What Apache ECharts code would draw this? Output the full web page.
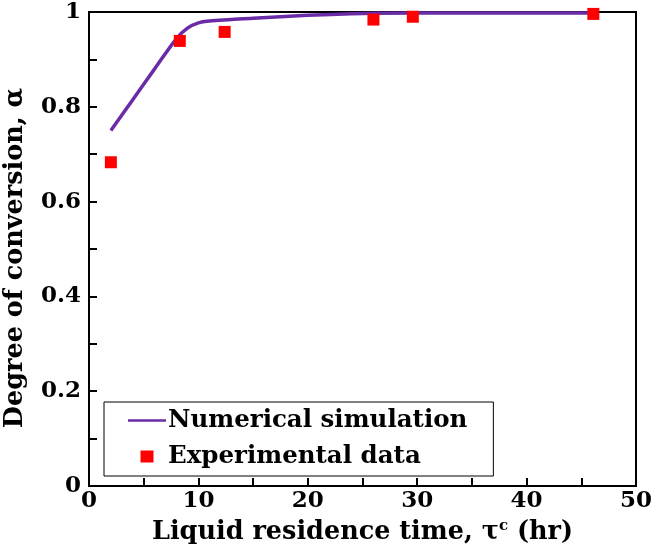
<!DOCTYPE html>
<html>
<head>
<meta charset="utf-8">
<script src="https://cdn.jsdelivr.net/npm/echarts@6/dist/echarts.min.js"></script>
<style>html,body{margin:0;padding:0;background:#fff;}#c{width:654px;height:553px;}</style>
</head>
<body>
<div id="c"></div>
<script>
// Numerical simulation curve
const simX = [2.0, 4.0, 6.0, 8.0, 9.0, 10.0, 11.0, 13.0, 15.0, 20.0, 25.0, 30.0, 46.0];
const simY = [0.750, 0.815, 0.880, 0.944, 0.966, 0.977, 0.981, 0.984, 0.987, 0.993, 0.997, 0.998, 0.998];
// Experimental data
const expX = [2.0, 8.3, 12.4, 26.0, 29.6, 46.1];
const expY = [0.683, 0.939, 0.958, 0.984, 0.990, 0.996];
const xTicks = [0, 10, 20, 30, 40, 50];
const yTicks = [0, 0.2, 0.4, 0.6, 0.8, 1];

const FONT = 'DejaVu Serif';
const chart = echarts.init(document.getElementById('c'), null, {renderer: 'canvas'});
chart.setOption({
  backgroundColor: '#fff',
  animation: false,
  grid: {left: 89, right: 18, top: 12, bottom: 67, outerBoundsMode: 'none', containLabel: false,
    show: true, borderColor: '#000', borderWidth: 2, backgroundColor: 'transparent'},
  xAxis: {
    type: 'value', min: 0, max: 50, interval: 10,
    name: 'Liquid residence time, τ{sup|c} (hr)',
    nameLocation: 'middle', nameGap: 33,
    nameTextStyle: {fontFamily: FONT, fontWeight: 'bold', fontSize: 25.5, color: '#000',
      rich: {sup: {fontFamily: FONT, fontWeight: 'bold', fontSize: 15, color: '#000', verticalAlign: 'top', padding: [0,0,10,0]}}},
    axisLine: {lineStyle: {color: '#000', width: 2}},
    axisTick: {inside: true, length: 8, lineStyle: {color: '#000', width: 2}},
    minorTick: {show: true, splitNumber: 2, length: 8, lineStyle: {color: '#000', width: 2}},
    splitLine: {show: false},
    axisLabel: {fontFamily: FONT, fontWeight: 'bold', fontSize: 23, color: '#000', margin: 4,
      formatter: v => xTicks.includes(v) ? String(v) : ''}
  },
  yAxis: {
    type: 'value', min: 0, max: 1, interval: 0.2,
    name: 'Degree of conversion, α',
    nameLocation: 'middle', nameGap: 61,
    nameTextStyle: {fontFamily: FONT, fontWeight: 'bold', fontSize: 25.5, color: '#000', padding: [0, 18, 0, 0]},
    axisLine: {lineStyle: {color: '#000', width: 2}},
    axisTick: {inside: true, length: 8, lineStyle: {color: '#000', width: 2}},
    minorTick: {show: true, splitNumber: 2, length: 8, lineStyle: {color: '#000', width: 2}},
    splitLine: {show: false},
    axisLabel: {fontFamily: FONT, fontWeight: 'bold', fontSize: 23, color: '#000', margin: 8,
      formatter: v => {
        const t = yTicks.find(k => Math.abs(k - v) < 1e-9);
        if (t === undefined) return '';
        return (t === 0 || t === 1) ? String(t) : t.toFixed(1);
      }}
  },
  legend: {
    orient: 'vertical', left: 104, top: 402, width: 388,
    backgroundColor: '#fff', borderColor: '#000', borderWidth: 1,
    padding: [6, 26, 7, 24], itemGap: 11, itemWidth: 38, itemHeight: 12,
    textStyle: {fontFamily: FONT, fontWeight: 'bold', fontSize: 24.5, color: '#000', padding: [0, 0, 0, -3]},
    data: [
      {name: 'Numerical simulation', icon: 'path://M0,5 L38,5 L38,7.5 L0,7.5 Z'},
      {name: 'Experimental data', icon: 'path://M12,0 L25,0 L25,12 L12,12 Z'}
    ]
  },
  series: [
    {
      name: 'Numerical simulation', type: 'line', smooth: 0.35, showSymbol: false,
      data: simX.map((x, i) => [x, simY[i]]),
      lineStyle: {color: '#6A2BA6', width: 3.5}, itemStyle: {color: '#6A2BA6'}, z: 2
    },
    {
      name: 'Experimental data', type: 'scatter', symbol: 'rect', symbolSize: 12,
      data: expX.map((x, i) => [x, expY[i]]),
      itemStyle: {color: '#FF0000', opacity: 1}, z: 3
    }
  ]
});
</script>
</body>
</html>
